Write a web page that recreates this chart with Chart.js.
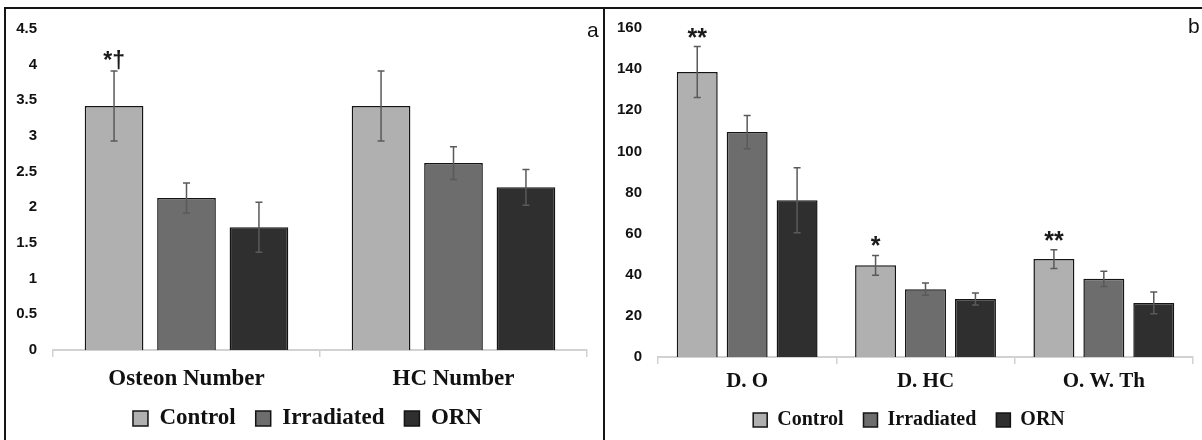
<!DOCTYPE html>
<html>
<head>
<meta charset="utf-8">
<script src="https://cdn.jsdelivr.net/npm/chart.js@4.4.0/dist/chart.umd.min.js"></script>
<style>
  body { margin: 0; background: #fff; width: 1202px; height: 440px; position: relative; overflow: hidden; }
  .panel { position: absolute; top: 7px; height: 433px; box-sizing: border-box; border-top: 2px solid #151515; }
  #pa { left: 4px; width: 601px; border-left: 2px solid #151515; border-right: 2px solid #151515; }
  #pb { left: 605px; width: 597px; }
  .tag { position: absolute; font: 21px "Liberation Sans", Arial, sans-serif; color: #111; line-height: 21px; }
  canvas { display: block; }
</style>
</head>
<body>
<div class="panel" id="pa"><canvas id="chartA" width="597" height="431"></canvas></div>
<div class="panel" id="pb"><canvas id="chartB" width="597" height="431"></canvas></div>
<div class="tag" style="left:587px;top:19px">a</div>
<div class="tag" style="left:1188px;top:15px">b</div>

<script>
// ---- panel a data ----
const groupsA = ['Osteon Number', 'HC Number'];
const controlA = [3.42, 3.42];
const irradiatedA = [2.13, 2.62];
const ornA = [1.72, 2.28];
const controlErrA = [0.49, 0.49];
const irradiatedErrA = [0.21, 0.23];
const ornErrA = [0.35, 0.25];
const marksA = ['*†', ''];

// ---- panel b data ----
const groupsB = ['D. O', 'D. HC', 'O. W. Th'];
const controlB = [138.6, 44.6, 47.6];
const irradiatedB = [109.4, 33, 38];
const ornB = [76.2, 28.2, 26.3];
const controlErrB = [12.4, 4.8, 4.6];
const irradiatedErrB = [8.1, 3, 3.7];
const ornErrB = [15.8, 2.9, 5.3];
const marksB = ['**', '*', '**'];

const seriesNames = ['Control', 'Irradiated', 'ORN'];
const fills = ['#b0b0b0', '#6d6d6d', '#2f2f2f'];

// error bars + significance marks on top of the bars
const errorBars = {
    id: 'errorBars',
    afterDatasetsDraw(chart) {
        const ctx = chart.ctx;
        const y = chart.scales.y;
        ctx.save();
        chart.data.datasets.forEach((ds, i) => {
            const meta = chart.getDatasetMeta(i);
            meta.data.forEach((bar, j) => {
                const v = ds.data[j], e = ds.errors[j];
                const top = y.getPixelForValue(v + e);
                const bot = y.getPixelForValue(v - e);
                ctx.strokeStyle = '#5a5a5a';
                ctx.lineWidth = 1.5;
                ctx.beginPath();
                ctx.moveTo(bar.x, top); ctx.lineTo(bar.x, bot);
                ctx.moveTo(bar.x - 3.5, top); ctx.lineTo(bar.x + 3.5, top);
                ctx.moveTo(bar.x - 3.5, bot); ctx.lineTo(bar.x + 3.5, bot);
                ctx.stroke();
                const mark = ds.marks && ds.marks[j];
                if (mark) {
                    const dagger = mark.includes('†');
                    ctx.fillStyle = '#1a1a1a';
                    ctx.font = 'bold ' + (dagger ? 23 : 25) + 'px "Liberation Sans", Arial, sans-serif';
                    ctx.textAlign = 'center';
                    ctx.textBaseline = 'alphabetic';
                    ctx.fillText(mark, bar.x, dagger ? top - 3 : top - 1);
                }
            });
        });
        ctx.restore();
    }
};

function makeChart(id, labels, values, errors, marks, cfg) {
    return new Chart(document.getElementById(id), {
        type: 'bar',
        data: {
            labels: labels,
            datasets: seriesNames.map((name, i) => ({
                label: name,
                data: values[i],
                errors: errors[i],
                marks: i === 0 ? marks : null,
                backgroundColor: fills[i],
                borderColor: '#141414',
                borderWidth: 1.5,
                categoryPercentage: cfg.catPct,
                barPercentage: cfg.barPct,
            })),
        },
        options: {
            responsive: false,
            animation: false,
            layout: { padding: cfg.padding },
            scales: {
                x: {
                    grid: { drawOnChartArea: false, color: '#d2d2d2', lineWidth: 1.5, tickLength: 7 },
                    border: { color: '#d2d2d2', width: 2 },
                    ticks: {
                        color: '#111',
                        padding: cfg.xPad,
                        font: { family: '"Liberation Serif", "Times New Roman", serif', weight: 'bold', size: cfg.xFont },
                    },
                    afterFit: (s) => { s.height = cfg.xHeight; },
                },
                y: {
                    min: 0,
                    max: cfg.max,
                    // hidden tick marks give the label gap without inflating the top padding
                    grid: { display: false, drawTicks: true, tickLength: 16 },
                    border: { display: false },
                    ticks: {
                        stepSize: cfg.step,
                        padding: 0,
                        color: '#111',
                        callback: (v) => String(v),
                        font: { family: '"Liberation Sans", Arial, sans-serif', weight: 'bold', size: 15 },
                    },
                    afterFit: (s) => { s.width = cfg.yWidth; },
                },
                // empty right-hand spacer so the legend sits where the original has it
                spacer: {
                    type: 'linear',
                    position: 'right',
                    grid: { display: false },
                    border: { display: false },
                    ticks: { display: false },
                    afterFit: (s) => { s.width = cfg.rightGap; },
                },
            },
            plugins: {
                tooltip: { enabled: false },
                legend: {
                    position: 'bottom',
                    labels: {
                        color: '#111',
                        boxWidth: cfg.box,
                        boxHeight: cfg.box,
                        padding: cfg.legPad,
                        font: { family: '"Liberation Serif", "Times New Roman", serif', weight: 'bold', size: cfg.legFont },
                    },
                },
            },
        },
        plugins: [errorBars],
    });
}

makeChart('chartA', groupsA,
    [controlA, irradiatedA, ornA],
    [controlErrA, irradiatedErrA, ornErrA],
    marksA,
    { max: 4.5, step: 0.5, catPct: 0.814, barPct: 0.81, yWidth: 41, xHeight: 37, xPad: 8, xFont: 23,
      legFont: 23, box: 15, legPad: 20, rightGap: 16, padding: { top: 20, right: 0, bottom: 0, left: 6 } });

makeChart('chartB', groupsB,
    [controlB, irradiatedB, ornB],
    [controlErrB, irradiatedErrB, ornErrB],
    marksB,
    { max: 160, step: 20, catPct: 0.84, barPct: 0.82, yWidth: 42, xHeight: 33, xPad: 5, xFont: 21,
      legFont: 20, box: 14, legPad: 20, rightGap: 9, padding: { top: 19, right: 0, bottom: 0, left: 11 } });
</script>
</body>
</html>
